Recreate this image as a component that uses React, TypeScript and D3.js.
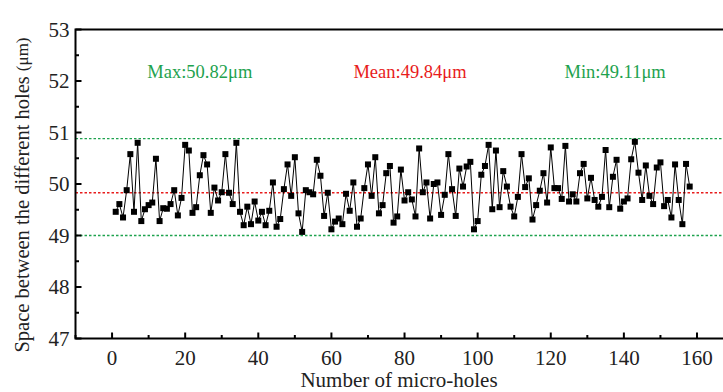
import React from "react";
import * as d3 from "d3";

const spacing: number[] = [
  49.46, 49.61, 49.35, 49.88, 50.58, 49.46, 50.8, 49.28, 49.51, 49.59,
  49.64, 50.49, 49.28, 49.53, 49.52, 49.61, 49.88, 49.39, 49.73, 50.76,
  50.65, 49.44, 49.55, 50.17, 50.56, 50.38, 49.44, 49.93, 49.68, 49.84,
  50.58, 49.83, 49.61, 50.8, 49.46, 49.2, 49.56, 49.22, 49.66, 49.29,
  49.46, 49.2, 49.48, 50.03, 49.17, 49.32, 49.9, 50.38, 49.77, 50.52,
  49.43, 49.07, 49.88, 49.84, 49.8, 50.47, 50.16, 49.38, 49.83, 49.12,
  49.27, 49.33, 49.22, 49.81, 49.48, 50.03, 49.17, 49.33, 49.92, 50.38,
  49.77, 50.52, 49.43, 49.59, 50.21, 50.35, 49.25, 49.37, 50.28, 49.68,
  49.84, 49.7, 49.37, 50.69, 49.84, 50.03, 49.33, 50.0, 50.03, 49.4,
  49.79, 50.58, 49.9, 49.38, 50.3, 49.95, 50.34, 50.43, 49.12, 49.28,
  50.18, 50.35, 50.76, 49.51, 50.65, 49.55, 50.25, 49.95, 49.56, 49.37,
  49.75, 50.58, 49.94, 50.11, 49.31, 49.59, 49.87, 50.21, 49.64, 50.71,
  49.92, 49.92, 49.71, 50.74, 49.66, 49.8, 49.66, 50.21, 50.39, 49.72,
  50.12, 49.69, 49.56, 49.75, 50.66, 49.55, 50.14, 50.47, 49.52, 49.66,
  49.72, 50.48, 50.82, 50.22, 49.69, 50.36, 49.77, 49.61, 50.32, 50.42,
  49.57, 49.69, 49.35, 50.38, 49.69, 49.22, 50.39, 49.95,
];
const holeIndex: number[] = spacing.map((_, i) => i + 1);

const xTicks: number[] = [0, 20, 40, 60, 80, 100, 120, 140, 160];
const xMinorTicks: number[] = [-10, 10, 30, 50, 70, 90, 110, 130, 150];
const yTicks: number[] = [47, 48, 49, 50, 51, 52, 53];
const yMinorTicks: number[] = [47.5, 48.5, 49.5, 50.5, 51.5, 52.5];

const refValues: number[] = [50.88, 49.83, 49.0];
const refKinds: string[] = ["max", "mean", "min"];
const annotations: string[] = ["Max:50.82μm", "Mean:49.84μm", "Min:49.11μm"];
const annotationX: number[] = [24, 81.5, 137.6];
const annotationKinds: string[] = ["max", "mean", "min"];

const W = 723;
const H = 392;
const GREEN = "#1ea24e";
const RED = "#e81c1c";
const FONT = "'Liberation Serif', 'Times New Roman', serif";

export default function App() {
  const x = d3.scaleLinear().domain([-10, 160]).range([75.5, 697]);
  const y = d3.scaleLinear().domain([47, 53]).range([338.5, 29.5]);
  const line = d3
    .line<number>()
    .x((_, i) => x(holeIndex[i]))
    .y((d) => y(d));
  const left = x(-10);
  const right = W + 5;
  const top = y(53);
  const bottom = y(47);
  const colorOf = (k: string) => (k === "mean" ? RED : GREEN);

  return (
    <svg
      width={W}
      height={H}
      style={{ position: "absolute", left: 0, top: 0, background: "#fff" }}
    >
      {refValues.map((v, i) => (
        <line
          key={"r" + i}
          x1={left}
          x2={W}
          y1={y(v)}
          y2={y(v)}
          stroke={colorOf(refKinds[i])}
          strokeWidth={1.3}
          strokeDasharray="2.5,2"
        />
      ))}
      <path d={line(spacing) || ""} fill="none" stroke="#000" strokeWidth={1} />
      {spacing.map((v, i) => (
        <rect
          key={"p" + i}
          x={x(holeIndex[i]) - 3}
          y={y(v) - 3}
          width={6}
          height={6}
          fill="#000"
        />
      ))}
      <rect
        x={left}
        y={top}
        width={right - left}
        height={bottom - top}
        fill="none"
        stroke="#000"
        strokeWidth={2}
      />
      {yTicks.map((t) => (
        <g key={"yt" + t}>
          <line x1={left} x2={left + 6} y1={y(t)} y2={y(t)} stroke="#000" strokeWidth={2} />
          <text
            x={left - 6}
            y={y(t)}
            textAnchor="end"
            dominantBaseline="central"
            fontFamily={FONT}
            fontSize={21}
            fill="#222"
          >
            {t}
          </text>
        </g>
      ))}
      {yMinorTicks.map((t) => (
        <line key={"ym" + t} x1={left} x2={left + 3.5} y1={y(t)} y2={y(t)} stroke="#000" strokeWidth={2} />
      ))}
      {xTicks.map((t) => (
        <g key={"xt" + t}>
          <line x1={x(t)} x2={x(t)} y1={bottom} y2={bottom - 6} stroke="#000" strokeWidth={2} />
          <text
            x={x(t)}
            y={bottom + 19}
            textAnchor="middle"
            dominantBaseline="central"
            fontFamily={FONT}
            fontSize={21}
            fill="#222"
          >
            {t}
          </text>
        </g>
      ))}
      {xMinorTicks.map((t) => (
        <line key={"xm" + t} x1={x(t)} x2={x(t)} y1={bottom} y2={bottom - 3.5} stroke="#000" strokeWidth={2} />
      ))}
      {annotations.map((a, i) => (
        <text
          key={"a" + i}
          x={x(annotationX[i])}
          y={72}
          textAnchor="middle"
          dominantBaseline="central"
          fontFamily={FONT}
          fontSize={18.5}
          fill={colorOf(annotationKinds[i])}
        >
          {a}
        </text>
      ))}
      <text
        x={399}
        y={380}
        textAnchor="middle"
        dominantBaseline="central"
        fontFamily={FONT}
        fontSize={21}
        fill="#222"
      >
        Number of micro-holes
      </text>
      <text
        transform={`translate(22,195) rotate(-90)`}
        textAnchor="middle"
        dominantBaseline="central"
        fontFamily={FONT}
        fontSize={20.5}
        fill="#222"
      >
        Space between the different holes <tspan fontSize={17}>(μm)</tspan>
      </text>
    </svg>
  );
}
